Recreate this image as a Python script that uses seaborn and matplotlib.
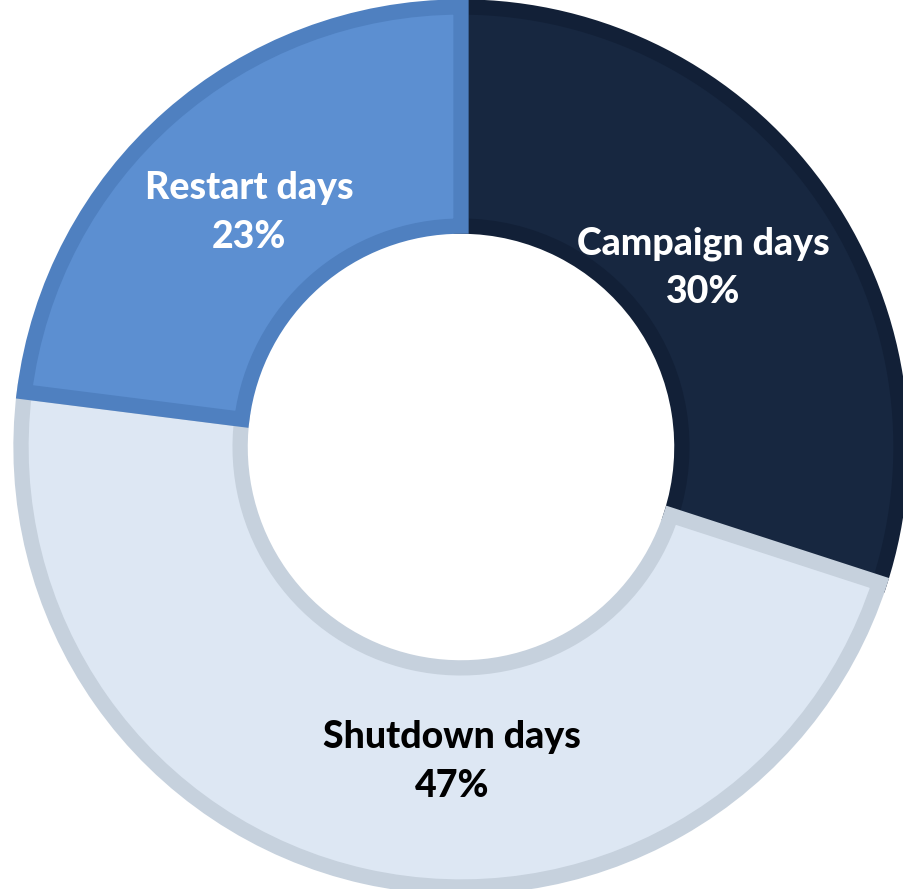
import matplotlib
matplotlib.use("Agg")
import matplotlib.pyplot as plt
import seaborn as sns
import numpy as np

sns.set_theme(style="white")
plt.rcParams['font.family'] = ['Lato', 'DejaVu Sans']

# Share of days per phase
categories = ["Campaign days", "Shutdown days", "Restart days"]
shares = [30, 47, 23]
fill_colors = ["#172740", "#dde7f3", "#5c8fd1"]
edge_colors = ["#122037", "#c6d1dd", "#4f80c0"]
text_colors = ["white", "black", "white"]
# label placement: (angle in degrees, radius as fraction of outer radius)
label_pos = [(36.5, 0.684), (-91.6, 0.716), (132.1, 0.718)]

fig = plt.figure(figsize=(9.04, 8.89), dpi=100)
ax = fig.add_axes([0, 0, 1, 1])

cx, cy, R = 461, 447, 440
W, H = 904, 889

wedges, _ = ax.pie(
    shares,
    colors=fill_colors,
    startangle=90,
    counterclock=False,
    radius=1.0,
    wedgeprops=dict(width=0.498, linewidth=0),
)
# inner borders: stroke each wedge and clip it to its own shape
for w, ec in zip(wedges, edge_colors):
    w.set_edgecolor(ec)
    w.set_linewidth(11)
    w.set_clip_path(w)

half_gap = 24.5 / R
for cat, val, (ang, r), tc in zip(categories, shares, label_pos, text_colors):
    a = np.deg2rad(ang)
    x, y = r * np.cos(a), r * np.sin(a)
    for txt, dy in ((cat, half_gap), (f"{val}%", -half_gap)):
        ax.text(x, y + dy, txt, ha="center", va="center", fontsize=27,
                fontweight=900, color=tc)

ax.set_xlim(-cx / R, (W - cx) / R)
ax.set_ylim(-(H - cy) / R, cy / R)
ax.set_aspect("auto")
ax.axis("off")

fig.savefig("out.png", dpi=100, facecolor="white")
